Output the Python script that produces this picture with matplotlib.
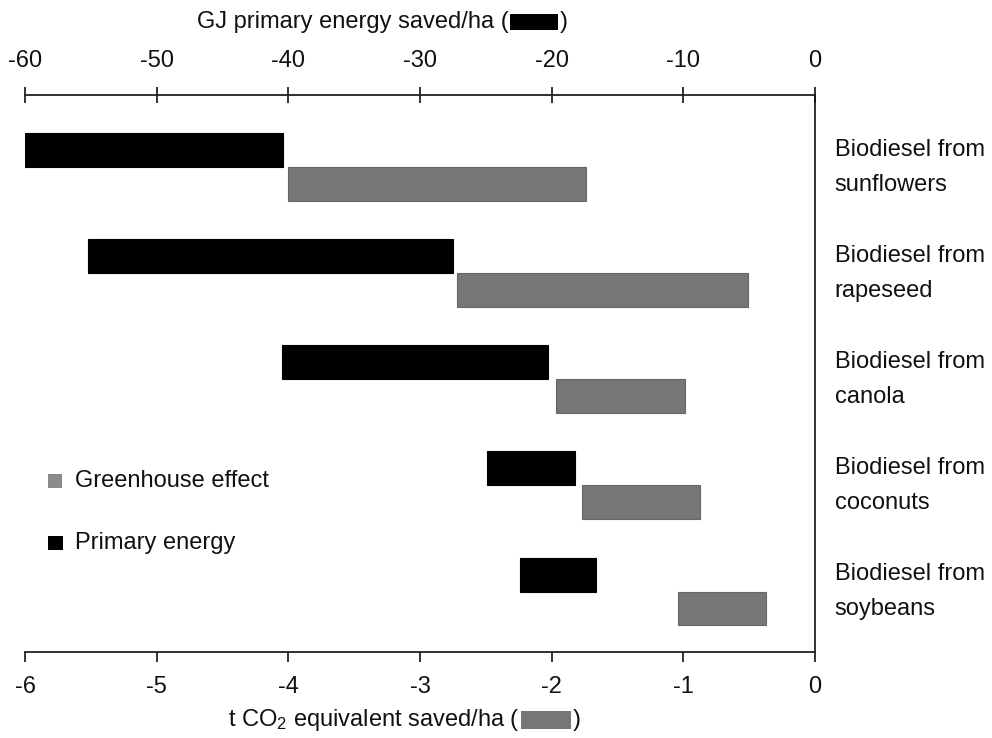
import matplotlib.pyplot as plt
from matplotlib.patches import Rectangle

plt.rcParams['font.family'] = ['Liberation Sans', 'DejaVu Sans']

# Floating bar ranges per feedstock
categories = ["Biodiesel from\nsunflowers", "Biodiesel from\nrapeseed", "Biodiesel from\ncanola",
              "Biodiesel from\ncoconuts", "Biodiesel from\nsoybeans"]
energy_start = [-60.0, -55.2, -40.5, -24.9, -22.4]   # GJ primary energy saved/ha
energy_end = [-40.4, -27.5, -20.3, -18.2, -16.6]
ghg_start = [-4.0, -2.72, -1.97, -1.77, -1.04]       # t CO2 eq saved/ha
ghg_end = [-1.74, -0.51, -0.99, -0.87, -0.37]

energy_ticks = [-60, -50, -40, -30, -20, -10, 0]
ghg_ticks = [-6, -5, -4, -3, -2, -1, 0]

W, H = 992, 738
GREY = '#767676'
FS = 17

fig = plt.figure(figsize=(W / 100, H / 100), dpi=100)
fig.patch.set_facecolor('white')


def fx(x):
    return x / W


def fy(y):
    return 1 - y / H


ax = fig.add_axes([fx(25), fy(652), fx(790), 557 / H])
ax2 = ax.twiny()

ypos = list(range(len(categories)))
bh = 0.32

# greenhouse bars on the bottom (t CO2) scale
ax.barh([y + bh / 2 for y in ypos], [e - s for s, e in zip(ghg_start, ghg_end)],
        left=ghg_start, height=bh, color=GREY, edgecolor='#666666', linewidth=0.8)
# primary energy bars on the top (GJ) scale
ax2.barh([y - bh / 2 for y in ypos], [e - s for s, e in zip(energy_start, energy_end)],
         left=energy_start, height=bh, color='black', edgecolor='black', linewidth=0.8)

ax.set_xlim(-6, 0)
ax2.set_xlim(-60, 0)
ax.set_ylim(4.57, -0.68)

ax.set_xticks(ghg_ticks)
ax.set_xticklabels([str(t) for t in ghg_ticks])
ax2.set_xticks(energy_ticks)
ax2.set_xticklabels([str(t) for t in energy_ticks])
ax.set_yticks([])
ax2.set_yticks([])

for a in (ax, ax2):
    for s in a.spines.values():
        s.set_visible(False)
        s.set_linewidth(1.3)
        s.set_color('#222222')
ax.spines['bottom'].set_visible(True)
ax.spines['right'].set_visible(True)
ax2.spines['top'].set_visible(True)

ax.tick_params(axis='x', direction='out', length=7, width=1.2, pad=10,
               labelsize=FS, colors='#111111')
ax2.tick_params(axis='x', direction='inout', length=12, width=1.2, pad=10.5,
                labelsize=FS, colors='#111111')

# category labels to the right of the frame
for y, name in zip(ypos, categories):
    ax.text(1.025, y, name, transform=ax.get_yaxis_transform(), ha='left', va='center',
            fontsize=FS, linespacing=1.78, color='#111111')

# legend swatches
fig.add_artist(Rectangle((fx(48), fy(488)), fx(14), 14 / H, transform=fig.transFigure,
                         facecolor='#8a8a8a', edgecolor='none'))
fig.text(fx(75), fy(481), 'Greenhouse effect', fontsize=FS, va='center', ha='left', color='#111111')
fig.add_artist(Rectangle((fx(48), fy(550)), fx(15), 14 / H, transform=fig.transFigure,
                         facecolor='black', edgecolor='none'))
fig.text(fx(75), fy(543), 'Primary energy', fontsize=FS, va='center', ha='left', color='#111111')

renderer = fig.canvas.get_renderer()


def label_with_swatch(x_left, y_center, text, color, box_w, box_h):
    t = fig.text(fx(x_left), fy(y_center), text, fontsize=FS, va='center', ha='left',
                 color='#111111')
    bb = t.get_window_extent(renderer)
    x0 = bb.x1 + 1
    y0 = H - y_center - box_h / 2
    fig.add_artist(Rectangle((x0 / W, y0 / H), box_w / W, box_h / H,
                             transform=fig.transFigure, facecolor=color, edgecolor='none'))
    fig.text((x0 + box_w + 2) / W, fy(y_center), ')', fontsize=FS, va='center', ha='left',
             color='#111111')


label_with_swatch(197, 22, 'GJ primary energy saved/ha (', 'black', 48, 15)
label_with_swatch(228, 720, r't CO$\mathregular{_2}$ equivalent saved/ha (', GREY, 50, 18)

fig.savefig('out.png', dpi=100)
